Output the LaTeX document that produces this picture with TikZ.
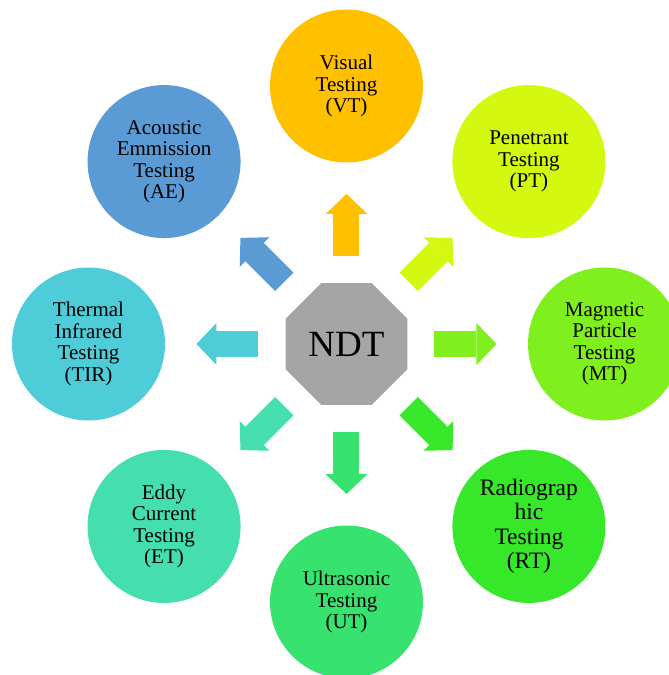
\documentclass[tikz,border=0pt]{standalone}
\usepackage{fontspec}
\setmainfont{Liberation Serif}
\usetikzlibrary{shapes.geometric,arrows.meta,calc}
\definecolor{ndtgray}{HTML}{A5A5A5}
\definecolor{vtcol}{HTML}{FFC000}
\definecolor{ptcol}{HTML}{D4F80F}
\definecolor{mtcol}{HTML}{7FEF1E}
\definecolor{rtcol}{HTML}{37E82A}
\definecolor{utcol}{HTML}{38E26E}
\definecolor{etcol}{HTML}{45DEAE}
\definecolor{tircol}{HTML}{4ECCD8}
\definecolor{aecol}{HTML}{5B9BD5}
\tikzset{
  hub/.style      = {regular polygon, regular polygon sides=8,
                     minimum size=132pt, inner sep=0pt,
                     fill=ndtgray, font=\rmfamily\fontsize{37}{40}\selectfont},
  method/.style   = {circle, minimum size=153pt, inner sep=0pt,
                     align=center, fill=#1,
                     font=\rmfamily\fontsize{21}{21.5}\selectfont},
  bigtext/.style  = {font=\rmfamily\fontsize{23.5}{24.5}\selectfont},
  fatarrow/.style = {draw=#1, line width=26pt,
                     -{Triangle[width=42pt,length=20pt,line width=0pt]}}
}
\newcommand{\spoke}[2]{($(ndt)!88pt!(#1)$) edge[fatarrow=#2] ($(ndt)!150pt!(#1)$)}

\begin{document}
\begin{tikzpicture}[x=1pt,y=1pt]
  \clip (-346.5,-331) rectangle (322.5,344);
  \node[hub] (ndt) at (0,0) {NDT};
  % the eight methods round the hub
  \node[method=vtcol]  (vt)  at (90:258pt)   {Visual\\Testing\\(VT)};
  \node[method=ptcol]  (pt)  at (45:258pt)   {Penetrant\\Testing\\(PT)};
  \node[method=mtcol]  (mt)  at (0:258pt)    {Magnetic\\Particle\\Testing\\(MT)};
  \node[method=rtcol, bigtext] (rt) at (-45:258pt) {Radiograp\\hic\\Testing\\(RT)};
  \node[method=utcol]  (ut)  at (-90:258pt)  {Ultrasonic\\Testing\\(UT)};
  \node[method=etcol]  (et)  at (-135:258pt) {Eddy\\Current\\Testing\\(ET)};
  \node[method=tircol] (tir) at (180:258pt)  {Thermal\\Infrared\\Testing\\(TIR)};
  \node[method=aecol]  (ae)  at (135:258pt)  {Acoustic\\Emmission\\Testing\\(AE)};
  \draw
    \foreach \m/\c in {vt/vtcol, pt/ptcol, mt/mtcol, rt/rtcol,
                       ut/utcol, et/etcol, tir/tircol, ae/aecol} {
      \spoke{\m}{\c} };
\end{tikzpicture}
\end{document}
